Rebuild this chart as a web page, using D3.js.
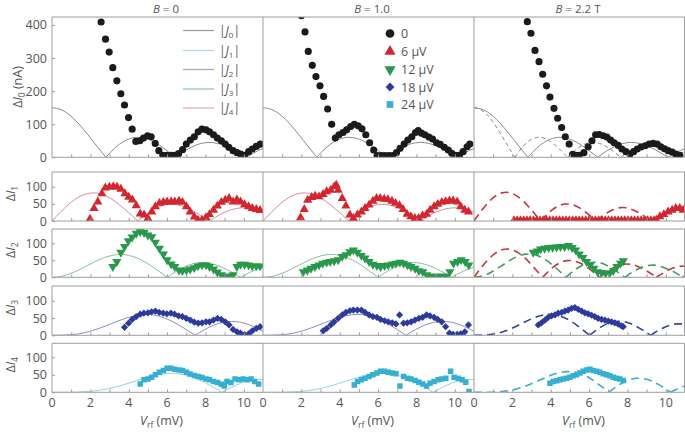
<!DOCTYPE html>
<html><head><meta charset="utf-8">
<script src="https://cdn.jsdelivr.net/npm/d3@7"></script>
<style>body{margin:0;background:#fff}svg{display:block}text{font-family:"Open Sans",sans-serif;fill:#555}</style>
</head><body><svg id="c" width="685" height="432"></svg>
<script>
// ---------- labels ----------
const colTitles = ["= 0", "= 1.0", "= 2.2 T"];
const rowSubs = ["0", "1", "2", "3", "4"];
const xTicks = [0, 2, 4, 6, 8, 10];
const yTicksTop = [0, 100, 200, 300, 400];
const yTicksSmall = [0, 50, 100];
const lineLegend = ["0", "1", "2", "3", "4"];
const symLegend = ["0", "6 \u00b5V", "12 \u00b5V", "18 \u00b5V", "24 \u00b5V"];

// ---------- measured data [Vrf (mV), value] ----------
const I0_B0 = [[2.56,409],[2.79,357],[2.98,318],[3.17,271],[3.38,231],[3.59,192],[3.78,158],[3.99,120],[4.18,85],[4.37,48],[4.58,50],[4.77,58],[4.98,65],[5.17,62],[5.38,42],[5.57,20],[5.78,6],[5.99,6],[6.2,6],[6.39,6],[6.6,11],[6.81,23],[7.0,40],[7.21,52],[7.42,62],[7.62,77],[7.82,85],[8.03,83],[8.21,77],[8.42,68],[8.62,58],[8.83,50],[9.03,40],[9.22,30],[9.44,20],[9.65,14],[9.83,10],[10.04,6],[10.25,17],[10.44,25],[10.65,33],[10.86,40]];
const I0_B1 = [[2.0,428],[2.19,379],[2.36,320],[2.57,278],[2.76,244],[2.97,216],[3.16,184],[3.37,146],[3.58,100],[3.77,58],[3.96,68],[4.17,75],[4.36,83],[4.57,93],[4.76,100],[4.96,95],[5.16,86],[5.36,68],[5.56,44],[5.77,22],[5.95,5],[6.16,5],[6.35,5],[6.56,5],[6.75,5],[6.96,14],[7.15,27],[7.36,40],[7.55,52],[7.76,62],[7.95,75],[8.09,81],[8.26,73],[8.44,68],[8.65,61],[8.84,55],[9.05,44],[9.24,39],[9.45,30],[9.66,22],[9.84,12],[10.05,6],[10.24,6],[10.43,17],[10.64,32],[10.78,40]];
const I0_B2 = [[2.78,410],[2.97,375],[3.18,323],[3.39,289],[3.58,251],[3.78,216],[3.96,182],[4.17,148],[4.36,118],[4.57,90],[4.76,62],[4.96,40],[5.14,9],[5.31,6],[5.49,6],[5.73,14],[5.95,32],[6.15,50],[6.34,68],[6.53,69],[6.74,65],[6.93,61],[7.12,52],[7.31,44],[7.52,36],[7.71,25],[7.92,17],[8.13,10],[8.32,17],[8.51,25],[8.71,31],[8.92,35],[9.13,40],[9.34,42],[9.55,40],[9.74,32],[9.93,26],[10.12,20],[10.33,16],[10.52,10],[10.73,6]];

const I1_B0 = [[1.98,6],[2.19,37],[2.39,56],[2.6,80],[2.78,97],[2.99,99],[3.2,101],[3.39,99],[3.59,93],[3.8,80],[4.0,70],[4.19,62],[4.39,45],[4.6,21],[4.8,18],[5.0,8],[5.2,27],[5.39,42],[5.6,52],[5.81,55],[6.0,56],[6.21,56],[6.4,56],[6.62,58],[6.8,55],[7.01,42],[7.2,27],[7.42,12],[7.61,3],[7.82,3],[8.03,10],[8.21,19],[8.42,32],[8.62,44],[8.83,55],[9.03,61],[9.23,66],[9.44,56],[9.64,62],[9.83,56],[10.04,48],[10.25,42],[10.44,37],[10.65,34],[10.85,31]];
const I1_B1 = [[1.96,10],[2.15,34],[2.33,61],[2.54,69],[2.72,73],[2.92,71],[3.13,78],[3.32,86],[3.53,90],[3.71,100],[3.82,105],[3.92,90],[4.13,66],[4.32,44],[4.53,18],[4.71,8],[4.92,18],[5.13,27],[5.32,37],[5.53,47],[5.73,58],[5.92,66],[6.11,66],[6.32,64],[6.51,63],[6.72,58],[6.91,52],[7.12,45],[7.3,34],[7.51,20],[7.71,13],[7.92,8],[8.11,8],[8.32,16],[8.53,20],[8.71,32],[8.92,42],[9.11,49],[9.32,55],[9.52,57],[9.72,59],[9.91,59],[10.12,56],[10.31,42],[10.52,32],[10.71,27]];
const I1_B2 = [[2.08,1.5],[2.25,1.5],[2.42,1.5],[2.59,1.5],[2.76,1.5],[2.93,1.5],[3.1,1.5],[3.27,1.5],[3.44,1.5],[3.61,1.5],[3.78,1.5],[3.95,1.5],[4.12,1.5],[4.29,1.5],[4.46,1.5],[4.63,1.5],[4.8,1.5],[4.97,1.5],[5.14,1.5],[5.31,1.5],[5.48,1.5],[5.65,1.5],[5.82,1.5],[5.99,1.5],[6.16,1.5],[6.33,1.5],[6.5,1.5],[6.67,1.5],[6.84,1.5],[7.01,1.5],[7.18,1.5],[7.35,1.5],[7.52,1.5],[7.69,1.5],[7.86,1.5],[8.03,1.5],[8.2,1.5],[8.37,1.5],[8.54,1.5],[8.71,1.5],[8.88,1.5],[9.05,1.5],[9.22,1.5],[9.39,1.5],[9.51,3],[9.69,13],[9.9,19],[10.12,27],[10.33,32],[10.52,37],[10.73,37],[10.9,32]];

const I2_B0 = [[3.17,31],[3.38,46],[3.59,73],[3.78,90],[3.98,107],[4.18,118],[4.39,129],[4.6,134],[4.8,131],[5.0,124],[5.2,119],[5.39,103],[5.6,85],[5.81,68],[6.0,51],[6.21,39],[6.4,31],[6.62,21],[6.8,19],[7.01,21],[7.2,24],[7.42,28],[7.61,33],[7.82,36],[8.03,36],[8.21,31],[8.42,24],[8.62,15],[8.83,7],[9.03,3],[9.23,3],[9.44,7],[9.64,31],[9.83,38],[10.04,38],[10.25,36],[10.44,33],[10.65,33],[10.85,33]];
const I2_B1 = [[2.1,16],[2.31,21],[2.5,26],[2.71,31],[2.92,36],[3.11,41],[3.32,44],[3.5,46],[3.71,48],[3.92,51],[4.13,61],[4.32,66],[4.53,75],[4.71,80],[4.92,73],[5.13,64],[5.32,56],[5.53,46],[5.73,38],[5.94,34],[6.13,31],[6.34,34],[6.53,36],[6.74,39],[6.93,41],[7.14,44],[7.33,41],[7.54,36],[7.72,31],[7.93,26],[8.13,19],[8.33,16],[8.54,7],[8.73,3],[8.94,3],[9.13,3],[9.34,3],[9.55,3],[9.74,16],[9.93,41],[10.14,46],[10.33,51],[10.54,46],[10.73,36]];
const I2_B2 = [[3.09,73],[3.3,77],[3.47,83],[3.68,85],[3.89,87],[4.1,88],[4.31,89],[4.51,90],[4.72,90],[4.93,93],[5.12,87],[5.3,80],[5.48,68],[5.68,58],[5.87,46],[6.06,36],[6.25,26],[6.44,16],[6.65,14],[6.86,12],[7.07,12],[7.26,19],[7.45,31],[7.64,41],[7.78,48]];

const I3_B0 = [[3.78,23],[3.99,35],[4.18,46],[4.39,54],[4.6,61],[4.79,64],[5.0,65],[5.19,68],[5.39,70],[5.59,66],[5.8,64],[5.99,62],[6.2,64],[6.39,61],[6.6,56],[6.8,54],[7.0,49],[7.21,44],[7.42,38],[7.62,35],[7.82,36],[8.03,39],[8.21,39],[8.42,44],[8.63,49],[8.83,46],[9.03,39],[9.23,30],[9.44,17],[9.65,10],[9.83,6],[10.04,2],[10.25,4],[10.44,13],[10.65,20],[10.85,25]];
const I3_B1 = [[3.14,13],[3.32,20],[3.53,30],[3.71,39],[3.92,49],[4.13,59],[4.32,66],[4.53,71],[4.71,73],[4.92,73],[5.13,73],[5.32,66],[5.53,59],[5.73,54],[5.94,52],[6.13,46],[6.34,42],[6.53,39],[6.74,36],[6.93,33],[7.12,59],[7.33,35],[7.52,36],[7.72,39],[7.92,44],[8.13,49],[8.32,52],[8.53,59],[8.71,56],[8.92,52],[9.11,46],[9.32,39],[9.52,25],[9.72,6],[9.91,3],[10.12,3],[10.31,4],[10.52,10],[10.71,30]];
const I3_B2 = [[3.35,30],[3.52,36],[3.7,44],[3.87,52],[4.04,56],[4.22,59],[4.39,64],[4.57,66],[4.74,70],[4.91,73],[5.09,78],[5.26,80],[5.43,75],[5.61,70],[5.78,65],[5.95,62],[6.13,58],[6.3,54],[6.47,49],[6.65,46],[6.82,44],[7.0,41],[7.17,39],[7.34,36],[7.52,32],[7.69,27],[7.78,25]];

const I4_B0 = [[4.6,24],[4.8,36],[5.0,38],[5.2,43],[5.39,50],[5.6,57],[5.81,62],[6.0,69],[6.2,69],[6.4,66],[6.62,64],[6.8,62],[7.01,57],[7.2,52],[7.42,48],[7.62,45],[7.82,42],[8.03,38],[8.21,36],[8.42,31],[8.63,28],[8.83,23],[8.98,18],[9.12,31],[9.33,28],[9.54,38],[9.75,36],[9.96,38],[10.17,36],[10.38,38],[10.56,31],[10.77,24]];
const I4_B1 = [[4.76,21],[4.93,31],[5.13,36],[5.32,40],[5.53,45],[5.73,50],[5.94,55],[6.13,60],[6.32,60],[6.53,57],[6.74,55],[6.93,53],[7.14,18],[7.33,45],[7.54,40],[7.72,38],[7.93,34],[8.13,29],[8.33,24],[8.53,18],[8.71,26],[8.92,31],[9.13,36],[9.32,38],[9.53,40],[9.78,60],[9.96,43],[10.17,40],[10.38,36],[10.57,29],[10.74,2]];
const I4_B2 = [[3.96,26],[4.13,31],[4.31,33],[4.48,36],[4.65,38],[4.83,40],[5.0,43],[5.17,47],[5.35,50],[5.52,55],[5.69,60],[5.87,64],[6.04,66],[6.21,62],[6.39,60],[6.56,57],[6.73,53],[6.91,50],[7.08,47],[7.26,43],[7.43,40],[7.6,38],[7.78,34]];

// ---------- theory curves |Jn| [Vrf, value] ----------
const J0_solid = [[0,150],[0.47,144.1],[0.94,126.9],[1.4,100.7],[1.87,68.3],[2.34,33.6],[2.81,0],[3.27,27.8],[3.74,48],[4.21,58.8],[4.44,60.4],[4.68,59.6],[5.15,51.3],[5.61,36.1],[6.08,16.5],[6.46,0],[6.78,13.8],[7.25,30.3],[7.72,41.1],[8.19,45],[8.65,41.8],[9.12,32.3],[9.59,18.3],[10.12,0],[10.53,13.5],[10.99,26.5],[11.46,34.8]];
const J1_solid = [[0,0],[0.47,27.6],[0.94,52],[1.4,70.3],[1.87,80.4],[2.15,82],[2.34,81.3],[2.81,73.3],[3.27,57.8],[3.74,36.8],[4.21,13.5],[4.48,0],[4.68,9.3],[5.15,28.6],[5.61,42.1],[6.08,48.4],[6.32,48.7],[6.55,47.1],[7.02,39],[7.49,25.6],[7.95,9.2],[8.21,0],[8.42,7.7],[8.89,22.4],[9.36,33.1],[9.82,38.2],[9.99,38.5],[10.29,37.2],[10.76,30.3],[11.23,19.5]];
const J2_solid = [[0,0],[0.47,2.7],[0.94,10.5],[1.4,22],[1.87,35.5],[2.34,48.7],[2.81,59.5],[3.27,65.9],[3.57,67.1],[3.74,66.7],[4.21,61.4],[4.68,50.2],[5.15,34.5],[5.61,16],[6.01,0],[6.55,20.2],[7.02,33.5],[7.49,41.4],[7.84,43.3],[8.42,38.6],[8.89,28.9],[9.36,15.6],[9.84,0],[10.29,13.7],[10.76,25.3],[11.23,32.8]];
const J3_solid = [[0,0],[0.94,1.4],[1.4,4.5],[1.87,10],[2.34,17.8],[2.81,27.3],[3.27,37.6],[3.74,47.3],[4.21,55],[4.68,59.4],[4.91,60],[5.15,59.9],[5.61,54.5],[6.08,45.1],[6.55,31.7],[7.02,15.8],[7.46,0],[7.95,16.4],[8.42,29],[8.89,37.2],[9.36,40.2],[9.82,37.7],[10.29,30.2],[10.76,18.5],[11.23,5.4]];
const J4_solid = [[0,0],[0.94,0.1],[1.4,0.7],[1.87,2],[2.34,4.6],[2.81,8.7],[3.27,14.4],[3.74,21.6],[4.21,29.7],[4.68,38],[5.15,45.6],[5.61,51],[6.08,53.8],[6.22,54],[6.55,53],[7.02,48.3],[7.49,40],[7.95,28],[8.42,14.2],[8.87,0],[9.36,14.2],[9.82,25.7],[10.29,33.5],[10.76,36.6],[11.23,35.4]];

const J0_dash = [[0,150],[0.35,144.1],[0.71,126.9],[1.06,100.7],[1.42,68.3],[1.77,33.6],[2.13,0],[2.48,27.8],[2.83,48],[3.19,58.8],[3.39,60.4],[3.54,59.6],[3.89,51.3],[4.25,36.1],[4.6,16.5],[4.88,0],[5.13,13.8],[5.49,30.3],[5.84,41.1],[6.19,45],[6.55,41.8],[6.9,32.3],[7.26,18.3],[7.66,0],[7.96,13.5],[8.32,26.5],[8.67,34.8],[9.03,37.5],[9.38,33.3],[9.73,25.7],[10.09,15.7],[10.43,0],[10.8,12.1],[11.15,21.9]];
const J1_dash_a = [[0,0],[0.36,28.2],[0.73,53.1],[1.09,71.8],[1.45,82.1],[1.67,83.8],[1.82,83],[2.18,74.9],[2.55,59],[2.91,37.6],[3.27,13.8],[3.48,0],[3.64,9.5],[4,29.2],[4.36,43],[4.73,49.4],[4.85,49.8],[5.09,48.1],[5.45,39.8],[5.82,26.2],[6.18,9.4],[6.38,0],[6.55,7.8],[6.91,22.9],[7.27,33.8],[7.64,39],[7.76,39.3],[8,38],[8.36,30.8],[8.73,19.9],[9.09,6.3],[9.25,0],[9.64,14.1],[10,25.5],[10.36,31.7],[10.64,33.5],[11,31]];
const J1_dash_b = [[0,0],[0.37,28],[0.75,52.7],[1.12,71.3],[1.5,81.5],[1.72,83.2],[1.87,82.5],[2.24,74.4],[2.62,58.6],[2.99,37.4],[3.36,13.7],[3.58,0],[3.74,9.4],[4.11,29],[4.49,42.7],[4.86,49.1],[4.98,49.4],[5.23,47.8],[5.61,39.6],[5.98,26],[6.36,9.3],[6.56,0],[6.73,7.8],[7.1,22.8],[7.48,33.5],[7.85,38.7],[7.98,39],[8.22,37.8],[8.6,30.6],[8.97,19.7],[9.35,6.2],[9.5,0],[9.91,14],[10.28,25.3],[10.65,31.5],[10.93,33.2],[11.31,30.7]];
const J2_dash = [[0,0],[0.37,2.8],[0.75,10.7],[1.12,22.5],[1.5,36.2],[1.87,49.7],[2.24,60.8],[2.62,67.4],[2.85,68.6],[2.99,68.2],[3.36,62.7],[3.74,51.3],[4.11,35.3],[4.49,16.4],[4.8,0],[5.23,20.6],[5.61,34.2],[5.98,42.3],[6.27,44.3],[6.73,39.5],[7.1,29.6],[7.48,15.9],[7.87,0],[8.22,14],[8.6,25.8],[8.97,33.5],[9.32,35.9],[9.72,32.3],[10.09,24.7],[10.47,14.5],[10.86,0],[11.21,12]];
const J3_dash = [[0,0],[0.75,1.4],[1.13,4.6],[1.51,10.2],[1.89,18],[2.26,27.7],[2.64,38.2],[3.02,48],[3.4,55.8],[3.77,60.2],[3.96,60.8],[4.15,60.8],[4.53,55.3],[4.91,45.7],[5.28,32.2],[5.66,16.1],[6.02,0],[6.42,16.6],[6.79,29.4],[7.17,37.7],[7.55,40.8],[7.92,38.2],[8.3,30.7],[8.68,18.8],[9.06,5.4],[9.21,0],[9.43,8.2],[9.81,19.9],[10.19,28.3],[10.57,33],[10.94,32.9]];
const J4_dash = [[0,0],[0.74,0.1],[1.11,0.7],[1.48,2.2],[1.85,5],[2.22,9.5],[2.59,15.8],[2.96,23.7],[3.33,32.5],[3.7,41.6],[4.07,50],[4.44,55.9],[4.81,59],[4.92,59.2],[5.19,58.1],[5.56,52.9],[5.93,43.8],[6.3,30.7],[6.67,15.6],[7.03,0],[7.41,15.6],[7.78,28.2],[8.15,36.8],[8.52,40.1],[8.89,38.8],[9.26,32.5],[9.63,21.8],[10,9.3],[10.24,0],[10.56,8.9],[10.93,17.8]];

// ---------- layout / styling ----------
const svg = d3.select("#c");
const colX = [52, 263, 474], colW = 211, rightEdge = 684.5;
const rowsG = [{top:17,bot:157.3,max:424},{top:172,bot:221,max:143},{top:229,bot:277.3,max:142},{top:286,bot:335.3,max:142.5},{top:343.3,bot:392.3,max:140}];
const markColors = ["#1b1b1b","#d3262f","#28994a","#2c3b9b","#36b0d2"];
const solidColors = ["#8a8a8a","#dc8b99","#80c39c","#8e8bc2","#95d2e2"];
const legendColors = ["#9a9a9a","#a9d6e8","#a4a0cc","#85c2ae","#e7a3b3"];
const symbols = [d3.symbolCircle, d3.symbolTriangle, d3.symbolTriangle, d3.symbolSquare, d3.symbolSquare];
const symSizes = [40, 36, 36, 26, 30];
const symRot = [0, 0, 180, 45, 0];
const frameCol = "#9d9d9d";

const measured = [[I0_B0,I0_B1,I0_B2],[I1_B0,I1_B1,I1_B2],[I2_B0,I2_B1,I2_B2],[I3_B0,I3_B1,I3_B2],[I4_B0,I4_B1,I4_B2]];
const solids = [J0_solid, J1_solid, J2_solid, J3_solid, J4_solid];
const dashes = [
  [{d:J0_dash,c:"#8a8a8a",w:1,da:"4,3"}],
  [{d:J1_dash_a,c:"#c8333b",w:1.6,da:"8,5"}],
  [{d:J1_dash_b,c:"#c8333b",w:1.6,da:"8,5"},{d:J2_dash,c:"#3d9e5d",w:1.6,da:"8,5"}],
  [{d:J3_dash,c:"#34459b",w:1.6,da:"8,5"}],
  [{d:J4_dash,c:"#3aaecb",w:1.6,da:"8,5"}]
];

function splitAtZeros(pts){
  const segs=[]; let cur=[];
  pts.forEach(p=>{ cur.push(p); if(p[1]===0 && cur.length>1){segs.push(cur); cur=[p];} });
  if(cur.length>1) segs.push(cur);
  return segs;
}

const defs = svg.append("defs");
rowsG.forEach((R,r)=>{
  const y = d3.scaleLinear().domain([0,R.max]).range([R.bot,R.top]);
  colX.forEach((cx,c)=>{
    const x = d3.scaleLinear().domain([0,11]).range([cx,cx+colW]);
    const id = `clip${r}${c}`;
    defs.append("clipPath").attr("id",id).append("rect")
      .attr("x",cx).attr("y",R.top).attr("width",(c===2?rightEdge-cx:colW)).attr("height",R.bot-R.top);
    const g = svg.append("g").attr("clip-path",`url(#${id})`);
    const line = d3.line().x(d=>x(d[0])).y(d=>y(d[1])).curve(d3.curveMonotoneX);
    if(c<2 || r===0){
      splitAtZeros(solids[r]).forEach(s=>g.append("path").attr("d",line(s))
        .attr("fill","none").attr("stroke",solidColors[r]).attr("stroke-width",1));
    }
    if(c===2){
      dashes[r].forEach(ds=>{
        const full = splitAtZeros(ds.d).map(s=>line(s)).join("");
        g.append("path").attr("d",full).attr("fill","none").attr("stroke",ds.c)
          .attr("stroke-width",ds.w).attr("stroke-dasharray",ds.da);
      });
    }
    const sym = d3.symbol().type(symbols[r]).size(symSizes[r]);
    g.selectAll("path.m").data(measured[r][c]).enter().append("path").attr("class","m")
      .attr("d",sym).attr("fill",markColors[r])
      .attr("transform",d=>`translate(${x(d[0])},${y(d[1])}) rotate(${symRot[r]})`);
    const ax = svg.append("g").attr("transform",`translate(0,${R.bot})`)
      .call(d3.axisBottom(x).tickValues(d3.range(1,11)).tickSize(-3).tickFormat(""));
    ax.select(".domain").remove();
    ax.selectAll("line").attr("stroke",frameCol);
    if(r===4){
      svg.append("g").selectAll("text").data(xTicks).enter().append("text")
        .attr("x",d=>x(d)).attr("y",407).attr("text-anchor","middle")
        .attr("font-size",12.5).text(d=>d);
      const t = svg.append("text").attr("x",cx+colW/2+4).attr("y",425).attr("text-anchor","middle").attr("font-size",12.5);
      t.append("tspan").attr("font-style","italic").text("V");
      t.append("tspan").attr("font-size",8.5).attr("dy",3).text("rf");
      t.append("tspan").attr("dy",-3).text(" (mV)");
    }
  });
  const fr = svg.append("g").attr("stroke",frameCol).attr("stroke-width",1).attr("fill","none");
  fr.append("line").attr("x1",52).attr("x2",rightEdge).attr("y1",R.top).attr("y2",R.top);
  fr.append("line").attr("x1",52).attr("x2",rightEdge).attr("y1",R.bot).attr("y2",R.bot);
  [52,263,474,rightEdge].forEach(xx=>fr.append("line").attr("x1",xx).attr("x2",xx).attr("y1",R.top).attr("y2",R.bot));
  const yt = r===0 ? yTicksTop : yTicksSmall;
  const ay = svg.append("g").attr("transform","translate(52,0)")
    .call(d3.axisLeft(y).tickValues(yt).tickSize(-3).tickFormat(""));
  ay.select(".domain").remove(); ay.selectAll("line").attr("stroke",frameCol);
  svg.append("g").selectAll("text").data(yt).enter().append("text")
    .attr("x",47).attr("y",d=>y(d)).attr("dy","0.36em").attr("text-anchor","end")
    .attr("font-size",12.5).text(d=>d);
  const cyRow = r===0 ? 87 : (R.top+R.bot)/2 - 3;
  const lx = r===0 ? 22 : 15;
  const lt = svg.append("text").attr("transform",`translate(${lx},${cyRow}) rotate(-90)`)
    .attr("text-anchor","middle").attr("font-size",12.5);
  lt.append("tspan").text("\u0394");
  lt.append("tspan").attr("font-style","italic").text("I");
  lt.append("tspan").attr("font-size",8.5).attr("dy",3).text(rowSubs[r]);
  if(r===0) lt.append("tspan").attr("dy",-3).text(" (nA)");
});

const titleX = [166, 372, 578];
colTitles.forEach((t,i)=>{
  const tt = svg.append("text").attr("x",titleX[i]).attr("y",12.5).attr("text-anchor","middle").attr("font-size",11.5);
  tt.append("tspan").attr("font-style","italic").text("B");
  tt.append("tspan").text(" "+t);
});

const legY = [30.5, 50.5, 69.5, 89, 108];
lineLegend.forEach((s,i)=>{
  svg.append("line").attr("x1",183).attr("x2",214).attr("y1",legY[i]).attr("y2",legY[i])
    .attr("stroke",legendColors[i]).attr("stroke-width",1.2);
  const t = svg.append("text").attr("x",219).attr("y",legY[i]).attr("dy","0.36em").attr("font-size",12);
  t.append("tspan").text("|");
  t.append("tspan").attr("font-style","italic").text("J");
  t.append("tspan").attr("font-size",8).attr("dy",3).text(s);
  t.append("tspan").attr("dy",-3).text("|");
});

const symY = [33.5, 51.5, 69.5, 87, 104.5];
symLegend.forEach((s,i)=>{
  svg.append("path").attr("d",d3.symbol().type(symbols[i]).size(symSizes[i]*1.5)())
    .attr("fill",markColors[i]).attr("transform",`translate(390,${symY[i]}) rotate(${symRot[i]})`);
  svg.append("text").attr("x",401).attr("y",symY[i]).attr("dy","0.36em").attr("font-size",12.5).text(s);
});
</script></body></html>
